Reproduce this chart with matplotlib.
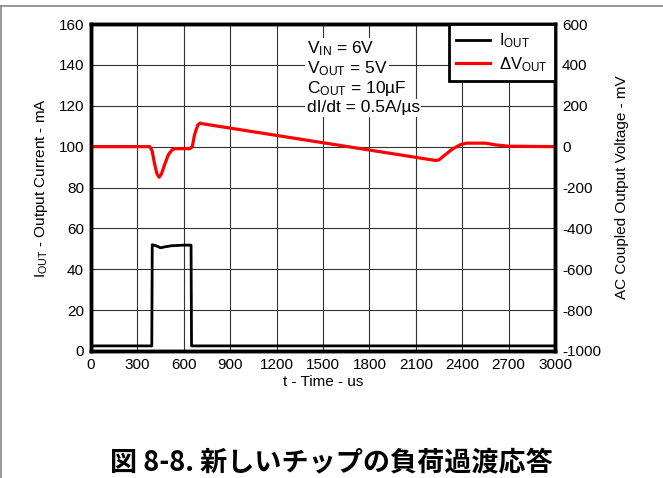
import numpy as np
import matplotlib.pyplot as plt
from matplotlib.lines import Line2D

plt.rcParams['font.family'] = ['Liberation Sans', 'DejaVu Sans']
plt.rcParams['mathtext.fontset'] = 'custom'
plt.rcParams['mathtext.rm'] = 'Liberation Sans'
plt.rcParams['mathtext.default'] = 'regular'
plt.rcParams['axes.unicode_minus'] = False

# output current (mA) vs time (us)
t_iout = [0, 393, 396, 420, 450, 480, 520, 600, 647, 650, 3000]
iout = [2.5, 2.5, 52, 51.5, 50.5, 51, 51.5, 51.8, 51.8, 2.5, 2.5]

# AC coupled output voltage (mV) vs time (us)
t_dv = [0, 380, 395, 410, 425, 440, 455, 475, 500, 525, 545, 640, 655, 670, 690,
        705, 720, 2230, 2250, 2290, 2340, 2390, 2430, 2550, 2620, 2700, 3000]
dv = [0, 0, -20, -80, -130, -150, -135, -90, -40, -15, -10, -10, 0, 60, 105,
      115, 112, -68, -65, -40, -10, 10, 17, 17, 8, 2, 0]

x_ticks = np.arange(0, 3001, 300)
left_ticks = np.arange(0, 161, 20)
right_ticks = np.arange(-1000, 601, 200)

fig = plt.figure(figsize=(6.63, 4.78), dpi=100)
ax = fig.add_axes([91 / 663, 1 - 351 / 478, 464 / 663, 327 / 478])
ax2 = ax.twinx()

ax.set_xlim(0, 3000)
ax.set_ylim(0, 160)
ax2.set_ylim(-1000, 600)
ax.set_xticks(x_ticks)
ax.set_yticks(left_ticks)
ax2.set_yticks(right_ticks)
ax.grid(True, color='#333333', lw=0.8)
ax.set_axisbelow(True)

ax.plot(t_iout, iout, color='black', lw=2.0, zorder=3)
ax2.plot(t_dv, dv, color='#ff0000', lw=2.3, solid_joinstyle='round')

for a in (ax, ax2):
    a.tick_params(length=0, labelsize=11, pad=5)
    for s in a.spines.values():
        s.set_linewidth(2.5)

ax.set_xlabel('t - Time - us', fontsize=11, labelpad=2)
ax.set_ylabel('I$_{OUT}$ - Output Current - mA', fontsize=11, labelpad=6)
ax2.set_ylabel('AC Coupled Output Voltage - mV', fontsize=11, labelpad=10)

cond = ['V$_{IN}$ = 6V', 'V$_{OUT}$ = 5V', 'C$_{OUT}$ = 10µF', 'dI/dt = 0.5A/µs']
for i, s in enumerate(cond):
    ax2.text(0.465, 0.925 - i * 0.0605, s, transform=ax.transAxes, fontsize=12.5,
             va='center', ha='left', zorder=5,
             bbox=dict(facecolor='white', edgecolor='none', pad=1.0))

handles = [Line2D([], [], color='black', lw=2.0), Line2D([], [], color='#ff0000', lw=2.3)]
leg = ax2.legend(handles, ['I$_{OUT}$', 'ΔV$_{OUT}$'], loc='upper right', fontsize=12,
                 frameon=True, fancybox=False, borderaxespad=0, handlelength=2.0,
                 handletextpad=0.55, borderpad=0.45, labelspacing=0.3)
leg.get_frame().set_edgecolor('black')
leg.get_frame().set_linewidth(2.0)
leg.get_frame().set_alpha(1)

fig.add_artist(Line2D([0, 1], [1 - 6 / 478, 1 - 6 / 478], color='#888888', lw=1.2))
fig.add_artist(Line2D([0.001, 0.001], [0, 1 - 6 / 478], color='#888888', lw=1.2))

fig.text(0.5, 1 - 462 / 478, '図 8-8. 新しいチップの負荷過渡応答', ha='center', va='center',
         fontsize=19.5, fontweight='bold', family=['Noto Sans CJK JP', 'DejaVu Sans'])

fig.savefig('out.png', dpi=100)
